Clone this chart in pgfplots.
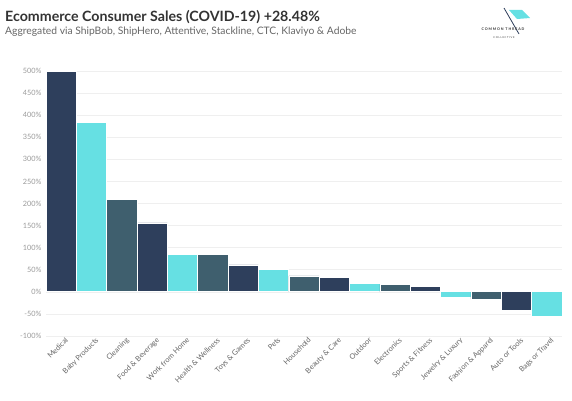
\documentclass[border=0pt]{standalone}
\usepackage{pgfplots}
\pgfplotsset{compat=1.18}
\usepackage{fontspec}
\setmainfont{Lato}
\definecolor{navy}{HTML}{2E3F5C}
\definecolor{cyanb}{HTML}{66E0E3}
\definecolor{slate}{HTML}{3F5F6E}
\definecolor{titlec}{HTML}{333333}
\definecolor{subc}{HTML}{666666}
\definecolor{tickc}{HTML}{9A9A9A}
\definecolor{gridc}{HTML}{EFEFEF}
\begin{document}
\begin{tikzpicture}
\useasboundingbox (0pt,0pt) rectangle (572pt,400pt);
\node[anchor=base west,inner sep=0,font=\bfseries\fontsize{14.2}{16}\selectfont,text=titlec] at (5pt,378pt) {Ecommerce Consumer Sales (COVID-19) +28.48\%};
\node[anchor=base west,inner sep=0,font=\fontsize{10.3}{12}\selectfont,text=subc] at (5pt,366pt) {Aggregated via ShipBob, ShipHero, Attentive, Stackline, CTC, Klaviyo \& Adobe};
% logo
\fill[cyanb] (509pt,390pt) -- (522pt,390pt) -- (530pt,382pt) -- (517pt,381pt) -- cycle;
\draw[navy,line width=0.8pt] (504pt,392pt) -- (519pt,366pt);
\node[inner sep=0,font=\fontsize{3.6}{4}\selectfont\bfseries,text=titlec] at (503pt,371pt) {C O M M O N\ \ T H R E A D};
\node[inner sep=0,font=\fontsize{2.6}{3}\selectfont,text=titlec] at (504pt,362pt) {C O L L E C T I V E};
\begin{axis}[
  at={(46pt,64pt)}, anchor=south west,
  scale only axis, width=516pt, height=265pt,
  xmin=-0.5, xmax=16.5, ymin=-100, ymax=500,
  ytick={-100,-50,0,50,100,150,200,250,300,350,400,450,500},
  yticklabel={\pgfmathprintnumber{\tick}\%},
  /pgf/number format/assume math mode=true,
  yticklabel style={font=\fontsize{7.3}{8}\selectfont,text=tickc,xshift=-1pt},
  ymajorgrids, grid style={gridc,line width=0.6pt},
  axis line style={draw=none},
  major tick length=0pt,
  xtick={0,...,16},
  xticklabels={Medical,Baby Products,Cleaning,Food \& Beverage,Work from Home,Health \& Wellness,Toys \& Games,Pets,Household,Beauty \& Care,Outdoor,Electronics,Sports \& Fitness,Jewelry \& Luxury,Fashion \& Apparel,Auto or Tools,Bags or Travel},
  xticklabel style={font=\fontsize{7.4}{8}\selectfont,text=subc,rotate=45,anchor=north east,inner sep=1pt,yshift=-2pt,xshift=3pt},
  ybar, bar width=30.3pt,
  every axis plot/.append style={bar shift=0pt,draw=white,line width=0.7pt},
  clip=false,
]
\addplot[fill=navy] coordinates {(0,500) (3,156) (6,61) (9,33) (12,12) (15,-42)};
\addplot[fill=cyanb] coordinates {(1,384) (4,85) (7,51) (10,19) (13,-12) (16,-56)};
\addplot[fill=slate] coordinates {(2,210) (5,85) (8,36) (11,17) (14,-17)};
\end{axis}
\end{tikzpicture}
\end{document}
